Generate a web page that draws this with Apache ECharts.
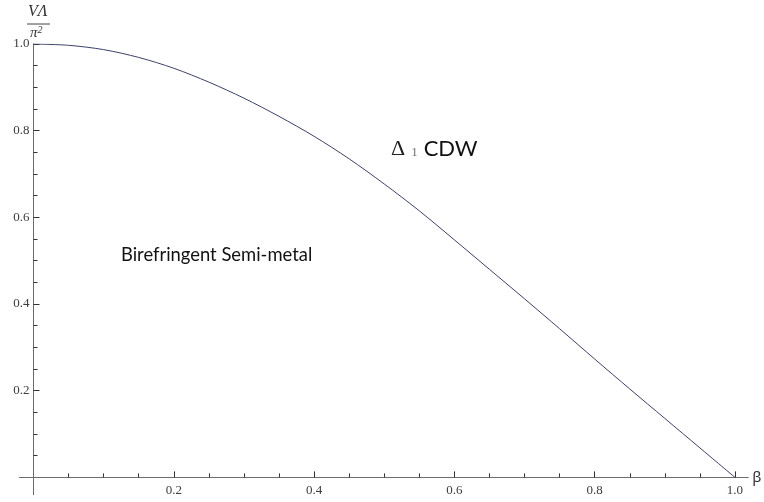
<!DOCTYPE html>
<html>
<head>
<meta charset="utf-8">
<script src="https://cdn.jsdelivr.net/npm/echarts@6/dist/echarts.min.js"></script>
<style>
  html, body { margin: 0; padding: 0; background: #fff; }
  #chart { width: 764px; height: 502px; }
</style>
</head>
<body>
<div id="chart"></div>
<script>
// Phase boundary: coupling ratio against beta
const beta = [0, 0.05, 0.10, 0.15, 0.20, 0.25, 0.30, 0.35, 0.40, 0.45, 0.50,
              0.55, 0.60, 0.65, 0.70, 0.75, 0.80, 0.85, 0.90, 0.95, 1.00];
const ratio = [1.000, 0.997, 0.987, 0.969, 0.944, 0.912, 0.875, 0.833, 0.787, 0.735, 0.677,
               0.615, 0.548, 0.480, 0.412, 0.343, 0.273, 0.204, 0.136, 0.068, 0.000];

// Tick positions
const majorTicks = [0.2, 0.4, 0.6, 0.8, 1.0];
const minorTicks = [0.05, 0.10, 0.15, 0.25, 0.30, 0.35, 0.45, 0.50, 0.55,
                    0.65, 0.70, 0.75, 0.85, 0.90, 0.95];

// Axis ranges run slightly past the origin so the axis lines overshoot it
const xMin = -0.02, xMax = 1.019;
const yMin = -0.04, yMax = 1.0;

const W = 764, H = 502;
const grid = { left: 19.5, right: 15.7, top: 44, bottom: 7.3 };
const gridW = W - grid.left - grid.right;
const gridH = H - grid.top - grid.bottom;
// shift each axis line onto the other axis' zero
const xAxisShift = -(0 - yMin) / (yMax - yMin) * gridH;
const yAxisShift = -(0 - xMin) / (xMax - xMin) * gridW;

const axisColor = '#6b6b6b';
const tickColor = '#333';
const labelFont = { color: '#3c3c3c', fontFamily: 'Liberation Serif', fontSize: 13 };

const chart = echarts.init(document.getElementById('chart'), null, { renderer: 'canvas' });

const xBase = {
  type: 'value', min: xMin, max: xMax, position: 'bottom', offset: xAxisShift,
  splitLine: { show: false }
};
const yBase = {
  type: 'value', min: yMin, max: yMax, position: 'left', offset: yAxisShift,
  splitLine: { show: false }
};

chart.setOption({
  animation: false,
  backgroundColor: '#ffffff',
  grid: Object.assign({ containLabel: false, outerBoundsMode: 'none' }, grid),
  xAxis: [
    Object.assign({}, xBase, {
      name: 'β', nameLocation: 'end', nameGap: 4,
      nameTextStyle: { fontFamily: 'Noto Sans', fontSize: 15, color: '#333', verticalAlign: 'middle', padding: [0, 0, 12, 0] },
      axisLine: { show: true, onZero: false, lineStyle: { color: axisColor, width: 1 } },
      axisTick: { show: true, inside: true, length: 6, customValues: majorTicks, lineStyle: { color: tickColor, width: 1 } },
      axisLabel: Object.assign({ show: true, margin: 7, hideOverlap: false, customValues: majorTicks, formatter: v => v.toFixed(1) }, labelFont)
    }),
    Object.assign({}, xBase, {
      axisLine: { show: false, onZero: false },
      axisTick: { show: true, inside: true, length: 4, customValues: minorTicks, lineStyle: { color: tickColor, width: 1 } },
      axisLabel: { show: false }
    })
  ],
  yAxis: [
    Object.assign({}, yBase, {
      axisLine: { show: true, onZero: false, lineStyle: { color: axisColor, width: 1 } },
      axisTick: { show: true, inside: true, length: 6, customValues: majorTicks, lineStyle: { color: tickColor, width: 1 } },
      axisLabel: Object.assign({ show: true, margin: 4, hideOverlap: false, customValues: majorTicks, formatter: v => v.toFixed(1) }, labelFont)
    }),
    Object.assign({}, yBase, {
      axisLine: { show: false, onZero: false },
      axisTick: { show: true, inside: true, length: 4, customValues: minorTicks, lineStyle: { color: tickColor, width: 1 } },
      axisLabel: { show: false }
    })
  ],
  series: [{
    type: 'line',
    xAxisIndex: 0, yAxisIndex: 0,
    data: beta.map((b, i) => [b, ratio[i]]),
    smooth: 0.3,
    showSymbol: false,
    lineStyle: { color: '#3d4068', width: 1 }
  }],
  graphic: [
    // axis name as a fraction: VΛ / π²
    { type: 'text', left: 28, top: 4,
      style: { text: 'VΛ', font: 'italic 16px "Liberation Serif"', fill: '#333' } },
    { type: 'line', shape: { x1: 27, y1: 24, x2: 50, y2: 24 },
      style: { stroke: '#444', lineWidth: 1 } },
    { type: 'text', left: 30, top: 25,
      style: { rich: {
        p: { font: 'italic 15px "Liberation Serif"', fill: '#333' },
        s: { font: 'italic 10px "Liberation Serif"', fill: '#333', verticalAlign: 'top', padding: [0, 0, 6, 0] }
      }, text: '{p|π}{s|2}' } },
    // region labels
    { type: 'text', left: 121, top: 246,
      style: { text: 'Birefringent Semi-metal', font: '18.4px Lato', fill: '#111' } },
    { type: 'text', left: 391, top: 138,
      style: { rich: {
        d: { font: '22px "Liberation Serif"', fill: '#222' },
        i: { font: '13px "Liberation Serif"', fill: '#6b7685', padding: [8, 6, 0, 6] },
        c: { font: '22px Lato', fill: '#111' }
      }, text: '{d|Δ}{i|1}{c|CDW}' } }
  ]
});
</script>
</body>
</html>
